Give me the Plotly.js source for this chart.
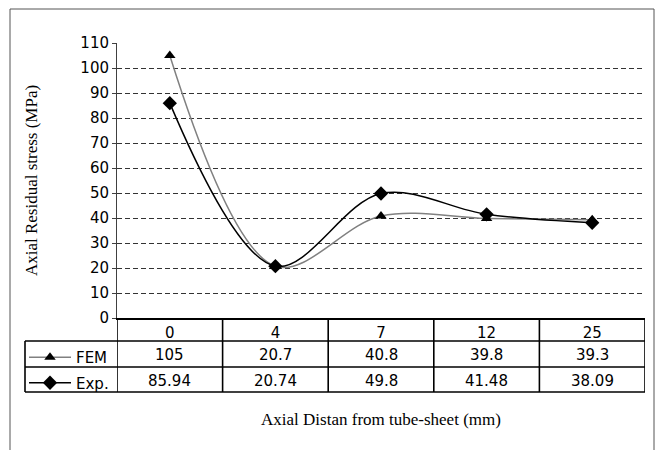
<!DOCTYPE html>
<html>
<head>
<meta charset="utf-8">
<script src="https://cdn.plot.ly/plotly-3.0.1.min.js"></script>
<style>html,body{margin:0;padding:0;background:#fff;}#chart{width:655px;height:450px;}</style>
</head>
<body>
<div id="chart"></div>
<script>
// ---- data ----
const categories = ["0", "4", "7", "12", "25"];
const femValues = [105, 20.7, 40.8, 39.8, 39.3];
const expValues = [85.94, 20.74, 49.8, 41.48, 38.09];
const seriesNames = ["FEM", "Exp."];
const yTickValues = [0, 10, 20, 30, 40, 50, 60, 70, 80, 90, 100, 110];

// ---- layout geometry (pixels) ----
const W = 655, H = 450;
const L = 117, R = 645, T = 43, B = 318;
const pw = R - L, ph = B - T;
const px = x => (x - L) / pw;
const py = y => (B - y) / ph;

const sans = "DejaVu Sans, Arial, sans-serif";
const serif = "Liberation Serif, Times New Roman, serif";

const traces = [
  {
    x: categories, y: femValues, name: seriesNames[0], type: "scatter", mode: "lines+markers",
    line: {color: "#808080", width: 1.5, shape: "spline", smoothing: 1},
    marker: {symbol: "triangle-up", size: 10, color: "#000"},
    legendgroup: "a", cliponaxis: false
  },
  {
    x: categories, y: expValues, name: seriesNames[1], type: "scatter", mode: "lines+markers",
    line: {color: "#000", width: 1.5, shape: "spline", smoothing: 1},
    marker: {symbol: "diamond", size: 11, color: "#000"},
    legendgroup: "b", cliponaxis: false
  }
];

// table lines
const tableLine = {color: "#000", width: 1.6};
const shapes = [];
const rowYs = [341, 367, 392];
rowYs.forEach(y => shapes.push({type: "line", xref: "paper", yref: "paper",
  x0: px(25), x1: px(R), y0: py(y), y1: py(y), line: tableLine}));
// left edge of legend column
shapes.push({type: "line", xref: "paper", yref: "paper", x0: px(25), x1: px(25), y0: py(341), y1: py(392), line: tableLine});
// y-axis extension and category separators
for (let i = 0; i <= categories.length; i++) {
  shapes.push({type: "line", xref: "x", yref: "paper", x0: i - 0.5, x1: i - 0.5,
    y0: 0, y1: py(392), line: tableLine});
}
// outer frame
shapes.push({type: "rect", xref: "paper", yref: "paper", x0: px(10), x1: px(654), y0: py(9), y1: py(470),
  line: {color: "#555", width: 1}, layer: "below"});

// value annotations in the table
const annotations = [];
[femValues, expValues].forEach((vals, r) => {
  const yc = r === 0 ? 354.5 : 380.5;
  vals.forEach((v, i) => annotations.push({
    x: i, xref: "x", y: py(yc), yref: "paper", text: String(v), showarrow: false,
    font: {family: sans, size: 15, color: "#000"}, xanchor: "center", yanchor: "middle"
  }));
});

const layout = {
  width: W, height: H,
  margin: {l: L, r: W - R, t: T, b: H - B, pad: 0},
  paper_bgcolor: "#fff", plot_bgcolor: "#fff",
  showlegend: true,
  legend: {x: px(24), xanchor: "left", y: py(341), yanchor: "top", orientation: "v",
    traceorder: "grouped", tracegroupgap: 3, itemwidth: 42, bgcolor: "rgba(0,0,0,0)",
    font: {family: sans, size: 15, color: "#000"}},
  xaxis: {
    type: "category", range: [-0.5, 4.5], showgrid: false, zeroline: false,
    showline: true, linecolor: "#000", linewidth: 1.6, ticks: "",
    tickfont: {family: sans, size: 15, color: "#000"},
    title: {text: "Axial Distan from tube-sheet (mm)", font: {family: serif, size: 17, color: "#000"}, standoff: 72}
  },
  yaxis: {
    range: [0, 110], tickvals: yTickValues, showgrid: true, gridcolor: "#333", gridwidth: 1,
    griddash: "5px,3px", zeroline: false, showline: true, linecolor: "#404040", linewidth: 1,
    ticks: "outside", ticklen: 4, tickcolor: "#404040",
    tickfont: {family: sans, size: 15, color: "#000"},
    title: {text: "Axial Residual stress (MPa)", font: {family: serif, size: 17, color: "#000"}, standoff: 38}
  },
  shapes: shapes,
  annotations: annotations
};

Plotly.newPlot("chart", traces, layout, {displayModeBar: false, staticPlot: true});
</script>
</body>
</html>
